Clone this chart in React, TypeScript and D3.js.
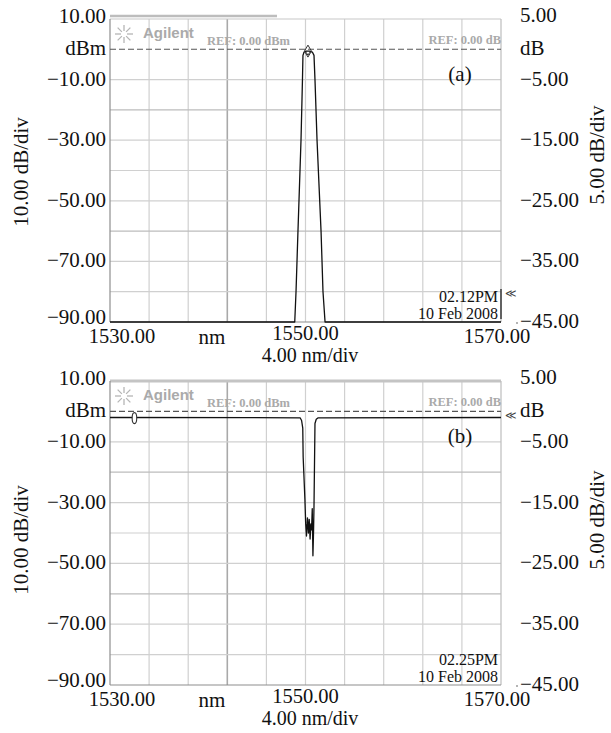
import React from "react";
import * as d3 from "d3";

// ---- data ----
const xTickValues = [1530, 1550, 1570];
const xTickLabels = ["1530.00", "1550.00", "1570.00"];
const leftTickValues = [10, 0, -10, -30, -50, -70, -90];
const leftTickLabels = ["10.00", "dBm", "\u221210.00", "\u221230.00", "\u221250.00", "\u221270.00", "\u221290.00"];
const rightTickValues = [5, 0, -5, -15, -25, -35, -45];
const rightTickLabels = ["5.00", "dB", "\u22125.00", "\u221215.00", "\u221225.00", "\u221235.00", "\u221245.00"];

const traceA_nm = [1530, 1548.9, 1549.03, 1549.23, 1549.54, 1549.69, 1549.74, 1549.85, 1550.1, 1550.4, 1550.7, 1550.87, 1550.97, 1551.18, 1551.59, 1551.79, 1552.0, 1570];
const traceA_dBm = [-90, -90, -80, -60, -30, -10, -2, -0.9, -0.6, -0.6, -0.9, -2, -10, -30, -60, -80, -90, -90];

const traceB_nm = [1530, 1549.45, 1549.6, 1549.72, 1549.76, 1549.94, 1550.02, 1550.1, 1550.2, 1550.3, 1550.38, 1550.47, 1550.55, 1550.62, 1550.69, 1550.76, 1550.82, 1550.87, 1550.97, 1551.1, 1551.3, 1570];
const traceB_dBm = [-2, -2.1, -3, -5.5, -15, -29, -37, -41, -35, -40, -35.5, -42, -37, -39, -32, -47.5, -40, -31, -4, -2.6, -2.1, -2];

const markerA = { nm: 1550.25, dBm: -0.6 };
const markerB = { nm: 1532.5, dBm: -2.2 };

const panelNames = ["(a)", "(b)"];
const panelTimes = ["02.12PM", "02.25PM"];
const panelDates = ["10 Feb 2008", "10 Feb 2008"];

const X_DOMAIN: [number, number] = [1530, 1570];
const Y_LEFT: [number, number] = [-90, 10];
const Y_RIGHT: [number, number] = [-45, 5];

const SERIF = "'Liberation Serif', 'Times New Roman', serif";

function Panel({ top, bottom, nm, dBm, marker, name, time, date, idx, leftLabelY, rightLabelY }: any) {
  const L = 110, R = 501;
  const x = d3.scaleLinear().domain(X_DOMAIN).range([L, R]);
  const y = d3.scaleLinear().domain(Y_LEFT).range([bottom, top]);
  const yR = d3.scaleLinear().domain(Y_RIGHT).range([bottom, top]);
  const xGrid = d3.range(1530, 1570.01, 4);
  const yGrid = d3.range(-90, 10.01, 10);
  const line = d3.line<number>().x((d, i) => x(nm[i])).y((d) => y(d));
  const refY = y(0);
  const mx = x(marker.nm), my = y(marker.dBm);
  const starCx = 124, starCy = top + 15;
  const rays = d3.range(8).map((k) => (k * Math.PI) / 4);
  const nL = leftTickValues.length;
  return (
    <g>
      {/* grid */}
      {xGrid.slice(1, -1).map((v) => (
        <line key={"vx" + v} x1={x(v)} x2={x(v)} y1={top} y2={bottom}
          stroke={v === 1542 ? "#a9a9a9" : "#d0d0d0"} strokeWidth={v === 1542 ? 1.6 : 1.2} />
      ))}
      {yGrid.slice(1, -1).filter((v) => v !== 0).map((v) => (
        <line key={"hy" + v} x1={L} x2={R} y1={y(v)} y2={y(v)}
          stroke={v === -20 || v === -60 ? "#bcbcbc" : "#d0d0d0"} strokeWidth={1.2} />
      ))}
      {/* frame */}
      <line x1={L} x2={R} y1={top} y2={top} stroke="#c8c8c8" strokeWidth={1.2} />
      {idx === 0 ? (
        <line x1={L} x2={277} y1={top - 3} y2={top - 3} stroke="#bdbdbd" strokeWidth={2.5} />
      ) : (
        <line x1={L} x2={R} y1={top} y2={top} stroke="#c4c4c4" strokeWidth={3} />
      )}
      <line x1={R} x2={R} y1={top} y2={bottom} stroke="#bdbdbd" strokeWidth={1.2} />
      <line x1={L} x2={L} y1={top} y2={bottom} stroke="#8e8e8e" strokeWidth={1.2} />
      <line x1={L} x2={R} y1={bottom} y2={bottom} stroke="#8e8e8e" strokeWidth={1.2} />
      {/* ref line */}
      <line x1={L} x2={R} y1={refY} y2={refY} stroke="#555" strokeWidth={1.1} strokeDasharray="6,3" />
      {/* logo */}
      {rays.map((a, k) => (
        <line key={"r" + k} x1={starCx + 3 * Math.cos(a)} y1={starCy + 3 * Math.sin(a)}
          x2={starCx + 9 * Math.cos(a)} y2={starCy + 9 * Math.sin(a)} stroke="#b5b5b5" strokeWidth={1.3} />
      ))}
      <text x={143} y={top + 19} fontFamily="'Liberation Sans', Arial, sans-serif" fontWeight="bold" fontSize={15} fill="#aaaaaa">Agilent</text>
      <text x={207} y={refY - 4} fontFamily={SERIF} fontWeight="bold" fontSize={12.5} fill="#aaaaaa">REF: 0.00 dBm</text>
      <text x={R} y={refY - 5} textAnchor="end" fontFamily={SERIF} fontWeight="bold" fontSize={12.5} fill="#aaaaaa">REF: 0.00 dB</text>
      {/* trace */}
      <path d={line(dBm) || ""} fill="none" stroke="#111" strokeWidth={1.3} strokeLinejoin="round" />
      {/* marker */}
      {idx === 0 ? (
        <g>
          <path d={`M${mx},${my - 6} L${mx + 3.5},${my} L${mx},${my + 6} L${mx - 3.5},${my} Z`} fill="none" stroke="#333" strokeWidth={1} />
          <path d={`M${mx - 2},${my + 1} L${mx},${my + 4} L${mx + 2},${my + 1}`} fill="none" stroke="#333" strokeWidth={1} />
        </g>
      ) : (
        <ellipse cx={mx} cy={my} rx={2.3} ry={5.5} fill="white" stroke="#333" strokeWidth={1.1} />
      )}
      {/* panel name */}
      <text x={460} y={refY + 32} textAnchor="middle" fontFamily={SERIF} fontSize={21} fill="#111">{name}</text>
      {/* timestamp */}
      <text x={498} y={bottom - 20} textAnchor="end" fontFamily={SERIF} fontSize={16} fill="#111">{time}</text>
      <text x={498} y={bottom - 3} textAnchor="end" fontFamily={SERIF} fontSize={16} fill="#111">{date}</text>
      {idx === 0 && <line x1={R} x2={R} y1={bottom - 33} y2={bottom - 3} stroke="#222" strokeWidth={1.3} />}
      <text x={505} y={idx === 0 ? bottom - 25 : refY + 8} fontFamily={SERIF} fontSize={11} fill="#444">≪</text>
      {/* left ticks */}
      {leftTickValues.map((v, i) => (
        <text key={"lt" + v} x={106} y={y(v) + (i === 0 ? 4 : i === nL - 1 ? 2 : 6)} textAnchor="end" fontFamily={SERIF} fontSize={21} fill="#111">{leftTickLabels[i]}</text>
      ))}
      {/* right ticks */}
      {rightTickValues.map((v, i) => (
        <text key={"rt" + v} x={520} y={yR(v) + (i === 0 ? 3 : 6)} fontFamily={SERIF} fontSize={21} fill="#111">{rightTickLabels[i]}</text>
      ))}
      <circle cx={517} cy={bottom + 1} r={0.8} fill="#555" />
      {/* x ticks */}
      {xTickValues.map((v, i) => (
        <text key={"xt" + v} x={x(v) + (i === 0 ? 12 : i === 2 ? -4 : 0)} y={bottom + (i === 1 ? 18 : 21)} textAnchor="middle" fontFamily={SERIF} fontSize={20.5} fill="#111">{xTickLabels[i]}</text>
      ))}
      <text x={212} y={bottom + 22} textAnchor="middle" fontFamily={SERIF} fontSize={21} fill="#111">nm</text>
      <text x={310} y={bottom + 40} textAnchor="middle" fontFamily={SERIF} fontSize={20} fill="#111">4.00 nm/div</text>
      {/* axis titles */}
      <text transform={`translate(28,${leftLabelY}) rotate(-90)`} textAnchor="middle" fontFamily={SERIF} fontSize={21} fill="#111">10.00 dB/div</text>
      <text transform={`translate(604,${rightLabelY}) rotate(-90)`} textAnchor="middle" fontFamily={SERIF} fontSize={21} fill="#111">5.00 dB/div</text>
    </g>
  );
}

export default function App() {
  return (
    <svg width={611} height={733} style={{ position: "absolute", left: 0, top: 0, background: "white" }}>
      <rect width={611} height={733} fill="white" />
      <Panel idx={0} top={19} bottom={322} nm={traceA_nm} dBm={traceA_dBm} marker={markerA}
        name={panelNames[0]} time={panelTimes[0]} date={panelDates[0]} leftLabelY={172} rightLabelY={155} />
      <Panel idx={1} top={381} bottom={685} nm={traceB_nm} dBm={traceB_dBm} marker={markerB}
        name={panelNames[1]} time={panelTimes[1]} date={panelDates[1]} leftLabelY={540} rightLabelY={520} />
    </svg>
  );
}
